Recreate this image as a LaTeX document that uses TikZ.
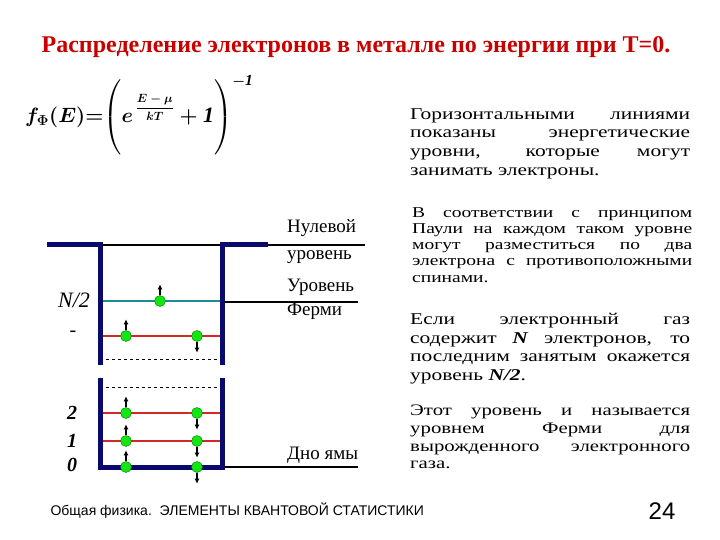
\documentclass[tikz,border=0pt]{standalone}
\usepackage{fontspec}
\usepackage{amsmath}
\setmainfont{Liberation Serif}
\setsansfont{Liberation Sans}
\newfontfamily\widefont[FakeStretch=1.3]{Liberation Serif}
\usetikzlibrary{arrows.meta}

\definecolor{wellblue}{RGB}{10,10,110}
\definecolor{fermiteal}{RGB}{30,140,150}
\definecolor{levelred}{RGB}{210,40,40}
\definecolor{titlered}{RGB}{200,0,0}
\definecolor{electrongreen}{RGB}{20,230,20}

\newcommand{\fermiformula}{%
    {\boldmath$f_{\Phi}\!\left(E\right)\!{=}\!\left(\vcenter{\hbox{\rule{0pt}{68pt}}}e^{\,\mbox{\fontsize{13}{14}\selectfont\boldmath$\dfrac{E-\mu}{kT}$}}+\mathit{1}\right)^{-\mathit{1}}$}}

\begin{document}
\begin{tikzpicture}[
    x=1pt, y=-1pt,
    wall/.style={draw=wellblue, line width=5pt},
    level/.style={draw=levelred, line width=2pt},
    fermi/.style={draw=fermiteal, line width=2pt},
    guide/.style={draw=black, line width=1.5pt},
    gap_line/.style={draw=black, dashed, line width=0.8pt},
    electron/.style={
            circle,
            fill=electrongreen,
            draw=green!45!black,
            inner sep=0pt,
            minimum size=11pt
        },
    spin/.style={-{Latex[length=5pt, width=5pt]}, line width=1.2pt},
    level_label/.style={font=\fontsize{20}{22}\selectfont\itshape\bfseries},
    side_label/.style={anchor=west, inner sep=0pt, font=\fontsize{19}{21}\selectfont},
    para_block/.style={
            anchor=north west,
            inner sep=0pt,
            text width=280pt,
            align=justify
        },
    ]
    \useasboundingbox (0,0) rectangle (720,540);

    % --- Title and formula ---
    \node (title) [text=titlered, font=\fontsize{24}{26}\selectfont\bfseries] at (356,47)
        {Распределение электронов в металле по энергии при T=0.};
    \node (formula) [anchor=west, inner sep=0pt, font=\fontsize{22}{26}\selectfont] at (25,115) {\fermiformula};

    % --- Well ---
    \draw[guide] (100,245) -- (365,245);
    \draw[fermi] (100,301) -- (222,301);
    \draw[guide] (222,302) -- (358,302);
    \draw[level] (100,336) -- (222,336);
    \draw[gap_line] (100,359) -- (222,359);
    \draw[gap_line] (100,387) -- (222,387);
    \draw[level] (100,413) -- (222,413);
    \draw[level] (100,441) -- (222,441);
    \draw[guide] (222,467) -- (358,467);

    \draw[wall] (47,244) -- (100,244) -- (100,365);
    \draw[wall] (268,244) -- (222,244) -- (222,365);
    \draw[wall] (100,378) -- (100,467) -- (222,467) -- (222,378);

    % --- Electrons ---
    \foreach \name/\x/\y in {f/160/301, a/126/336, b/126/413, c/126/441, d/126/467} {
        \node[electron] (e-\name) at (\x,\y) {};
        \coordinate (t-\name) at ([yshift=11pt]e-\name.north);
        \draw[spin] (e-\name.north) -- (t-\name);
    }
    \foreach \name/\x/\y in {g/197/336, h/197/413, i/197/441, j/197/467} {
        \node[electron] (e-\name) at (\x,\y) {};
        \coordinate (t-\name) at ([yshift=-11pt]e-\name.south);
        \draw[spin] (e-\name.south) -- (t-\name);
    }

    % --- Level labels ---
    \node (lab_half) [font=\fontsize{22}{24}\selectfont\itshape] at (74,300) {N/2};
    \node (lab_dash) [font=\fontsize{20}{22}\selectfont] at (73,334) {-};
    \node (lab_two) [level_label] at (72,413) {2};
    \node (lab_one) [level_label] at (72,441) {1};
    \node (lab_zero) [level_label] at (72,465) {0};

    \node (zero_a) [side_label] at (287,228) {Нулевой};
    \node (zero_b) [side_label] at (287,257) {уровень};
    \node (fermi_a) [side_label] at (287,287) {Уровень};
    \node (fermi_b) [side_label] at (287,311) {Ферми};
    \node (bottom) [side_label] at (287,455) {Дно ямы};

    % --- Explanations ---
    \node (para_levels) [para_block, font=\widefont\fontsize{16.5}{18.7}\selectfont] at (410,108)
        {Горизонтальными линиями\linebreak показаны энергетические\linebreak уровни, которые могут\linebreak занимать электроны.};
    \node (para_pauli) [para_block, font=\widefont\fontsize{15}{16.3}\selectfont] at (412,207)
        {В соответствии с принципом\linebreak Паули на каждом таком уровне\linebreak могут разместиться по два\linebreak электрона с противоположными\linebreak спинами.};
    \node (para_count) [para_block, font=\widefont\fontsize{16.5}{18.7}\selectfont] at (410,313)
        {Если электронный газ\linebreak содержит \textbf{\textit{N}} электронов, то\linebreak последним занятым окажется\linebreak уровень \textbf{\textit{N/2}}.};
    \node (para_fermi) [para_block, font=\widefont\fontsize{16}{17.7}\selectfont] at (410,405)
        {Этот уровень и называется\linebreak уровнем Ферми для\linebreak вырожденного электронного\linebreak газа.};

    % --- Footer ---
    \node (footer) [anchor=west, font=\sffamily\fontsize{14}{16}\selectfont] at (47,511)
        {Общая физика.\ \ ЭЛЕМЕНТЫ КВАНТОВОЙ СТАТИСТИКИ};
    \node (page) [font=\sffamily\fontsize{24}{26}\selectfont] at (662,511) {24};

\end{tikzpicture}
\end{document}
